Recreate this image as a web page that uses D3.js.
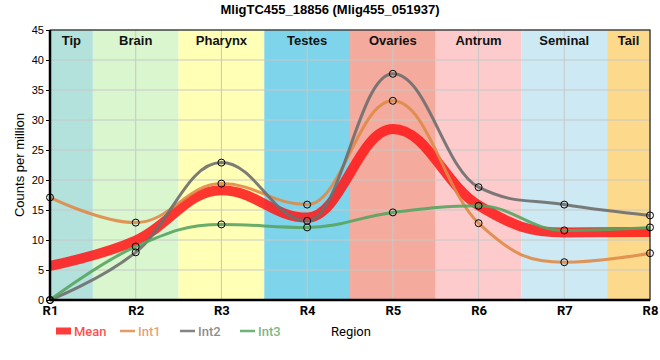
<!DOCTYPE html>
<html>
<head>
<meta charset="utf-8">
<script src="https://cdn.jsdelivr.net/npm/d3@7"></script>
<style>
body{margin:0;background:#fff;}
text{font-family:"Liberation Sans",Arial,sans-serif;}
.band-label{font-weight:bold;font-size:13px;}
.xtick text{font-family:Roboto,sans-serif;font-weight:bold;font-size:13px;}
.ytick text{font-size:11px;}
</style>
</head>
<body>
<svg id="chart" width="660" height="360"></svg>
<script>
// data
var regions = ["R1","R2","R3","R4","R5","R6","R7","R8"];
var int1 = [17.1, 12.9, 19.4, 15.9, 33.2, 12.8, 6.3, 7.8];
var int2 = [0, 7.95, 22.9, 13.2, 37.7, 18.8, 15.9, 14.1];
var int3 = [0, 8.9, 12.6, 12.1, 14.6, 15.7, 11.6, 12.1];
var bandNames = ["Tip","Brain","Pharynx","Testes","Ovaries","Antrum","Seminal","Tail"];
var bandColours = ["#b3e2dd","#d9f6cf","#ffffb5","#7ed4ea","#f4aa9c","#fdcbcb","#cdeaf4","#fdd98b"];
var yTicks = [0,5,10,15,20,25,30,35,40,45];

var meanVals = regions.map(function(r,i){return (int1[i]+int2[i]+int3[i])/3;});

var series = [
  {name:"Mean", values:meanVals, colour:"#ff1a1a", width:10, opacity:0.88, dots:false},
  {name:"Int1", values:int1, colour:"#e08a48", width:3, opacity:0.9, dots:true},
  {name:"Int2", values:int2, colour:"#6e6e6e", width:3, opacity:0.9, dots:true},
  {name:"Int3", values:int3, colour:"#58a461", width:3, opacity:0.9, dots:true}
];

var svg = d3.select("#chart");
var margin = {top:30, right:10, bottom:60, left:50},
    width = 660 - margin.left - margin.right,
    height = 360 - margin.top - margin.bottom;

var x = d3.scalePoint().domain(regions).range([0,width]);
var step = x.step();
var y = d3.scaleLinear().domain([0,45]).range([height,0]);

//smooth spline with long flat handles (no overshoot at extremes)
function splinePath(pts){
  var sm = 1.5, den = sm + 1;
  var lc = [], rc = [];
  pts.forEach(function(p,i){
    var last = pts[i-1], next = pts[i+1];
    if(!last || !next){ lc.push(p); rc.push(p); return; }
    var lx = (sm*p[0]+last[0])/den, ly = (sm*p[1]+last[1])/den,
        rx = (sm*p[0]+next[0])/den, ry = (sm*p[1]+next[1])/den;
    var corr = (ry-ly)*(rx-p[0])/(rx-lx) + p[1] - ry;
    ly += corr; ry += corr;
    if(ly>last[1] && ly>p[1]){ ly = Math.max(last[1],p[1]); ry = 2*p[1]-ly; }
    else if(ly<last[1] && ly<p[1]){ ly = Math.min(last[1],p[1]); ry = 2*p[1]-ly; }
    if(ry>next[1] && ry>p[1]){ ry = Math.max(next[1],p[1]); ly = 2*p[1]-ry; }
    else if(ry<next[1] && ry<p[1]){ ry = Math.min(next[1],p[1]); ly = 2*p[1]-ry; }
    lc.push([lx,ly]); rc.push([rx,ry]);
  });
  var path = d3.path();
  pts.forEach(function(p,i){
    if(i==0){ path.moveTo(p[0],p[1]); return; }
    path.bezierCurveTo(rc[i-1][0],rc[i-1][1],lc[i][0],lc[i][1],p[0],p[1]);
  });
  return path.toString();
}

svg.append("text")
  .attr("x",330).attr("y",14)
  .attr("text-anchor","middle")
  .style("font-weight","bold").style("font-size","13px")
  .text("MligTC455_18856 (Mlig455_051937)");

var g = svg.append("g").attr("transform","translate("+margin.left+","+margin.top+")");

// region bands
g.selectAll("rect.band").data(bandNames).enter().append("rect")
  .attr("class","band")
  .attr("x",function(d,i){return Math.max(0,x(regions[i])-step/2);})
  .attr("width",function(d,i){return Math.min(width,x(regions[i])+step/2)-Math.max(0,x(regions[i])-step/2);})
  .attr("y",0).attr("height",height)
  .attr("fill",function(d,i){return bandColours[i];});

// grid
g.selectAll("line.hgrid").data(yTicks).enter().append("line")
  .attr("x1",0).attr("x2",width)
  .attr("y1",function(d){return y(d);}).attr("y2",function(d){return y(d);})
  .attr("stroke","#c8c8c8").attr("stroke-width",1);
g.selectAll("line.vgrid").data(regions).enter().append("line")
  .attr("x1",function(d){return x(d);}).attr("x2",function(d){return x(d);})
  .attr("y1",0).attr("y2",height)
  .attr("stroke","#c8c8c8").attr("stroke-width",1);

// band labels
g.selectAll("text.band-label").data(bandNames).enter().append("text")
  .attr("class","band-label")
  .attr("x",function(d,i){
    var a = Math.max(0,x(regions[i])-step/2), b = Math.min(width,x(regions[i])+step/2);
    return (a+b)/2;})
  .attr("y",15)
  .attr("text-anchor","middle")
  .attr("fill","#111")
  .text(function(d){return d;});

// lines
series.forEach(function(s){
  var pts = s.values.map(function(v,i){return [x(regions[i]), y(v)];});
  g.append("path")
    .attr("d",splinePath(pts))
    .attr("fill","none")
    .attr("stroke",s.colour)
    .attr("stroke-width",s.width)
    .attr("stroke-opacity",s.opacity);
});
series.forEach(function(s){
  if(!s.dots) return;
  g.selectAll(null).data(s.values).enter().append("circle")
    .attr("cx",function(d,i){return x(regions[i]);})
    .attr("cy",function(d){return y(d);})
    .attr("r",3.5)
    .attr("fill","none")
    .attr("stroke","#000")
    .attr("stroke-width",1);
});

// frame
g.append("rect").attr("x",0).attr("y",0).attr("width",width).attr("height",height)
  .attr("fill","none").attr("stroke","#000").attr("stroke-width",1);

// axes
var yAxis = g.append("g").attr("class","ytick")
  .call(d3.axisLeft(y).tickValues(yTicks).tickSize(4).tickPadding(2));
yAxis.select(".domain").remove();
yAxis.selectAll("line").attr("stroke","#000");
g.append("line").attr("x1",0).attr("x2",0).attr("y1",0).attr("y2",height)
  .attr("stroke","#000").attr("stroke-width",2.5);

var xAxis = g.append("g").attr("class","xtick")
  .attr("transform","translate(0,"+height+")")
  .call(d3.axisBottom(x).tickSize(0).tickPadding(6));
xAxis.select(".domain").remove();
g.append("line").attr("x1",0).attr("x2",width).attr("y1",height).attr("y2",height)
  .attr("stroke","#000").attr("stroke-width",2.5);

// axis titles
svg.append("text")
  .attr("transform","translate(24,"+(margin.top+height/2)+") rotate(-90)")
  .attr("text-anchor","middle")
  .style("font-size","13px")
  .text("Counts per million");
svg.append("text")
  .attr("x",331).attr("y",336)
  .style("font-family","Roboto,sans-serif")
  .style("font-size","13px")
  .text("Region");

// legend
var legX = [56,120,180,240];
var leg = svg.selectAll("g.legend").data(series).enter().append("g")
  .attr("class","legend")
  .attr("transform",function(d,i){return "translate("+legX[i]+",331)";});
leg.append("rect")
  .attr("x",0).attr("y",function(d){return d.name=="Mean"?-3.5:-1.25;})
  .attr("width",15)
  .attr("height",function(d){return d.name=="Mean"?7:2.5;})
  .attr("fill",function(d){return d.colour;})
  .attr("fill-opacity",0.85);
leg.append("text")
  .attr("x",18).attr("y",5)
  .style("font-family","Roboto,sans-serif")
  .style("font-size","13px")
  .style("font-weight","500")
  .attr("fill",function(d){return d.colour;})
  .attr("fill-opacity",0.8)
  .text(function(d){return d.name;});
</script>
</body>
</html>
